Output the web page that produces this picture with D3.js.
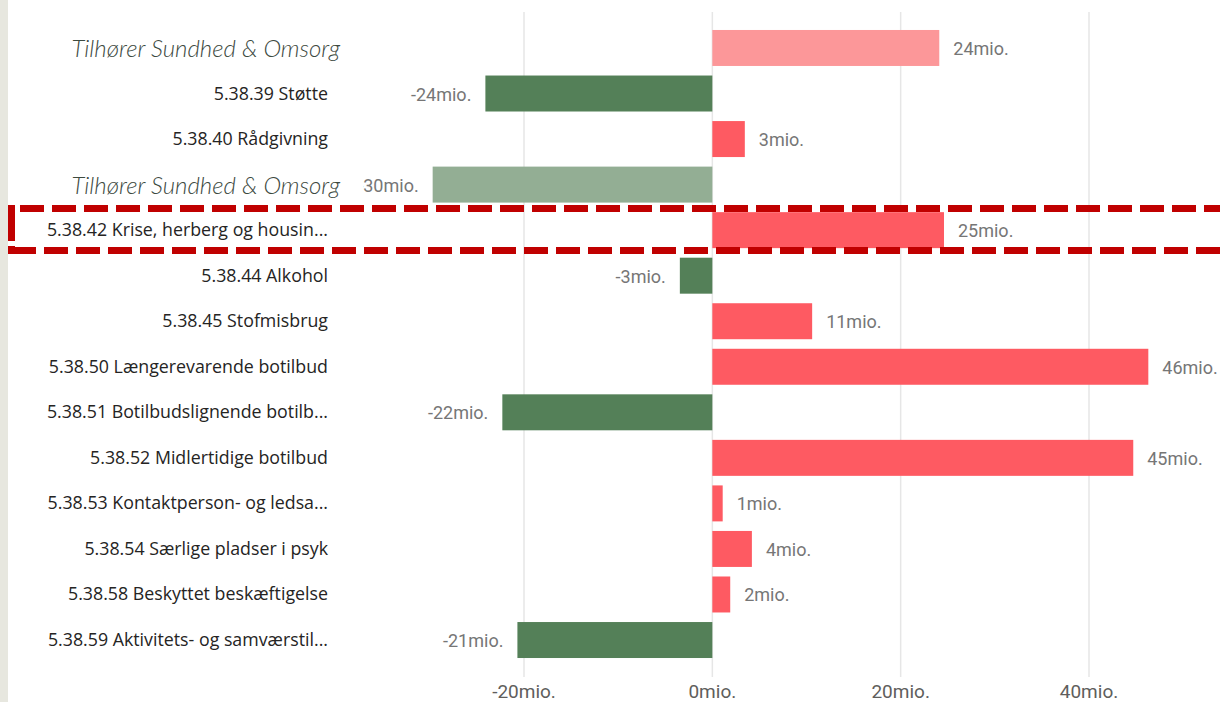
<!DOCTYPE html>
<html lang="da">
<head>
    <meta charset="utf-8">
    <title>Afvigelser</title>
    <script src="https://cdn.jsdelivr.net/npm/d3@7"></script>
</head>
<style>
    body {
        margin: 0;
        padding: 0;
        background-color: #ffffff;
        overflow: hidden;
    }
    .cat-label {
        font-family: "Open Sans", sans-serif;
        font-size: 17.8px;
        fill: #252423;
    }
    .value-label {
        font-family: Roboto, sans-serif;
        font-size: 18px;
        fill: #767676;
    }
    .tick-label {
        font-family: Roboto, sans-serif;
        font-size: 19px;
        fill: #605e5c;
    }
    .note {
        font-family: Lato, sans-serif;
        font-style: italic;
        font-weight: 300;
        font-size: 24px;
        fill: #3d4a3f;
    }
    .highlight {
        fill: none;
        stroke: #c00000;
        stroke-width: 7;
    }
</style>
<body>
    <svg width="1220" height="702" id="chart"></svg>

    <script>
        // categories top to bottom (rows 0 and 3 are covered by a note)
        var categories = [
            "5.38.38",
            "5.38.39 Støtte",
            "5.38.40 Rådgivning",
            "5.38.41",
            "5.38.42 Krise, herberg og housin...",
            "5.38.44 Alkohol",
            "5.38.45 Stofmisbrug",
            "5.38.50 Længerevarende botilbud",
            "5.38.51 Botilbudslignende botilb...",
            "5.38.52 Midlertidige botilbud",
            "5.38.53 Kontaktperson- og ledsa...",
            "5.38.54 Særlige pladser i psyk",
            "5.38.58 Beskyttet beskæftigelse",
            "5.38.59 Aktivitets- og samværstil..."
        ];
        // values in mio. kr.
        var values = [24.1, -24.1, 3.45, -29.7, 24.6, -3.45, 10.6, 46.3, -22.3, 44.7, 1.1, 4.2, 1.9, -20.7];
        var noteRows = [0, 3];
        var noteText = "Tilhører Sundhed & Omsorg";
        var xTicks = [-20, 0, 20, 40];

        var svg = d3.select("#chart");

        // grey strip at the left edge
        svg.append("rect")
            .attr("x", 0).attr("y", 0)
            .attr("width", 8).attr("height", 702)
            .attr("fill", "#e7e7df");

        var x = d3.scaleLinear()
            .domain([-20, 40])
            .range([524, 1089]);

        var y = d3.scaleBand()
            .domain(d3.range(categories.length))
            .range([25.2, 662.8])
            .paddingInner(0.21)
            .paddingOuter(0.105);

        // gridlines
        svg.append("g")
            .selectAll("line")
            .data(xTicks)
            .enter()
            .append("line")
            .attr("x1", function(d) { return x(d); })
            .attr("x2", function(d) { return x(d); })
            .attr("y1", 12)
            .attr("y2", 677)
            .attr("stroke", "#e6e6e6")
            .attr("stroke-width", 1.5);

        // x axis tick labels
        svg.append("g")
            .selectAll("text")
            .data(xTicks)
            .enter()
            .append("text")
            .attr("class", "tick-label")
            .attr("x", function(d) { return x(d); })
            .attr("y", 698)
            .attr("text-anchor", "middle")
            .text(function(d) { return d + "mio."; });

        function barColor(d, i) {
            var faded = noteRows.indexOf(i) >= 0;
            if (d >= 0) return faded ? "#fc9799" : "#fe5a62";
            return faded ? "#93ae94" : "#548058";
        }

        // bars
        svg.append("g")
            .selectAll("rect")
            .data(values)
            .enter()
            .append("rect")
            .attr("x", function(d) { return x(Math.min(0, d)); })
            .attr("y", function(d, i) { return y(i); })
            .attr("width", function(d) { return Math.abs(x(d) - x(0)); })
            .attr("height", y.bandwidth())
            .attr("fill", barColor);

        // value labels
        svg.append("g")
            .selectAll("text")
            .data(values)
            .enter()
            .append("text")
            .attr("class", "value-label")
            .attr("x", function(d) { return d >= 0 ? x(d) + 14 : x(d) - 14; })
            .attr("y", function(d, i) { return y(i) + y.bandwidth() / 2 + 7; })
            .attr("text-anchor", function(d) { return d >= 0 ? "start" : "end"; })
            .text(function(d) { return (d < 0 ? "-" : "") + Math.round(Math.abs(d)) + "mio."; });

        // category labels (the noted rows only show the note)
        svg.append("g")
            .selectAll("text")
            .data(categories.map(function(c, i) { return {c: c, i: i}; })
                .filter(function(d) { return noteRows.indexOf(d.i) < 0; }))
            .enter()
            .append("text")
            .attr("class", "cat-label")
            .attr("x", 328)
            .attr("y", function(d) { return y(d.i) + y.bandwidth() / 2 + 6; })
            .attr("text-anchor", "end")
            .text(function(d) { return d.c; });

        // note boxes laid over the first and fourth rows
        var notes = svg.append("g")
            .selectAll("g")
            .data(noteRows)
            .enter()
            .append("g");

        notes.append("rect")
            .attr("x", 30)
            .attr("y", function(r) { return y(r) - 2; })
            .attr("width", 333)
            .attr("height", y.bandwidth() + 4)
            .attr("fill", "#ffffff");

        notes.append("text")
            .attr("class", "note")
            .attr("x", 340)
            .attr("y", function(r) { return y(r) + y.bandwidth() / 2 + 9; })
            .attr("text-anchor", "end")
            .text(noteText);

        // dashed highlight around one row
        var hl = svg.append("g");
        hl.append("line").attr("class", "highlight")
            .attr("x1", 20).attr("x2", 1230)
            .attr("y1", 208.5).attr("y2", 208.5)
            .attr("stroke-dasharray", "24,8");
        hl.append("line").attr("class", "highlight")
            .attr("x1", 12).attr("x2", 1230)
            .attr("y1", 250.5).attr("y2", 250.5)
            .attr("stroke-dasharray", "24,8");
        hl.append("line").attr("class", "highlight")
            .attr("x1", 11.5).attr("x2", 11.5)
            .attr("y1", 205).attr("y2", 254)
            .attr("stroke-dasharray", "36,5,8");
    </script>
</body>
</html>
